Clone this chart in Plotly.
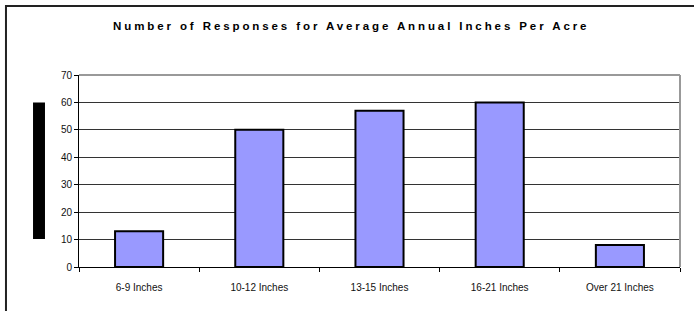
import plotly.graph_objects as go

categories = ["6-9 Inches", "10-12 Inches", "13-15 Inches", "16-21 Inches", "Over 21 Inches"]
responses = [13, 50, 57, 60, 8]
y_ticks = [0, 10, 20, 30, 40, 50, 60, 70]

fig = go.Figure(go.Bar(
    x=categories, y=responses, width=0.4,
    marker=dict(color="#9999FF", line=dict(color="#000000", width=2)),
))

fig.update_layout(
    width=694, height=311,
    margin=dict(l=79, r=14, t=75, b=44),
    paper_bgcolor="white", plot_bgcolor="white",
    showlegend=False,
    font=dict(family="Liberation Sans, Arial, sans-serif", size=10, color="#000"),
    title=dict(text="<b>Number of Responses for Average Annual Inches Per Acre</b>",
               x=(113 - 79) / 601, xref="paper", xanchor="left", y=1 - 26 / 311, yanchor="middle",
               font=dict(size=11.5, color="#000")),
    xaxis=dict(type="category", showline=True, linecolor="#000", linewidth=1,
               ticks="outside", tickson="boundaries", ticklen=4, tickcolor="#000",
               ticklabelstandoff=11,
               showgrid=False, tickfont=dict(size=10, color="#111")),
    yaxis=dict(range=[0, 70], tickvals=y_ticks, showline=True, linecolor="#000", linewidth=1,
               ticks="outside", ticklen=4, tickcolor="#000", showgrid=True,
               gridcolor="#333", gridwidth=1, zeroline=False, tickfont=dict(size=10, color="#111")),
    shapes=[
        dict(type="line", xref="paper", yref="paper", x0=0, x1=1, y0=1, y1=1,
             line=dict(color="#999", width=2)),
        dict(type="line", xref="paper", yref="paper", x0=1, x1=1, y0=0, y1=1,
             line=dict(color="#999", width=2)),
        dict(type="rect", xref="paper", yref="paper", x0=-0.1215, x1=1.06, y0=-0.35, y1=1.359,
             line=dict(color="#222", width=2), fillcolor="rgba(0,0,0,0)", layer="below"),
        dict(type="rect", xref="paper", yref="paper", x0=-0.0765, x1=-0.0566, y0=0.146, y1=0.857,
             line=dict(width=0), fillcolor="#000"),
    ],
)

fig.write_html(
    "out.html",
    config={"displayModeBar": False},
    post_script=(
        "document.body.style.margin='0';"
        "document.querySelectorAll('.gtitle').forEach(function(e){e.style.letterSpacing='2.9px';});"
    ),
)
